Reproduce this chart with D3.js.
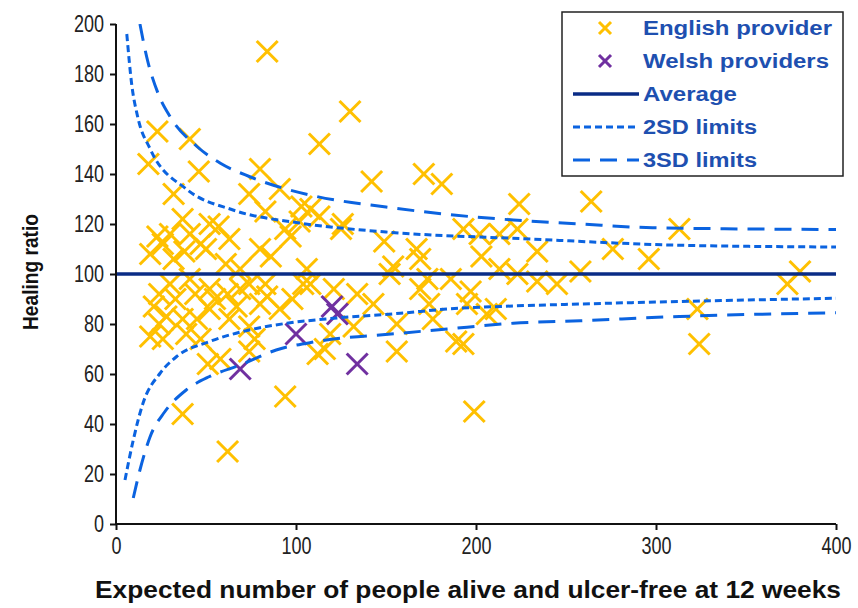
<!DOCTYPE html>
<html>
<head>
<meta charset="utf-8">
<script src="https://cdn.jsdelivr.net/npm/d3@7"></script>
<style>
  body { margin: 0; background: #fff; }
  .tick text { font-family: "Liberation Sans Narrow", "Arial Narrow", sans-serif; font-size: 23px; fill: #222; }
  .leg text { font-family: "Liberation Sans", Arial, sans-serif; font-weight: bold; font-size: 20px; fill: #1E50B0; }
</style>
</head>
<body>
<div id="chart"></div>
<script>
// English providers (expected count, healing ratio)
const englishX = [84,130,113,23,41,18,46,80,142,171,181,32,74,91,103,83,37,30,57,26,47,50,80,97,61,32,86,126,108,113,
  149,167,193,202,203,154,169,106,224,264,313,276,296,234,223,213,213,223,234,245,258,380,373,173,152,
  23,41,52,19,38,63,69,94,102,125,
  30,41,52,62,74,21,28,37,45,19,26,39,52,67,74,84,98,104,51,58,74,37,94,62,108,121,134,143,132,156,174,176,195,189,193,206,
  112,116,156,199,211,323,324,24,33,44,55,69,83,91,24,47,63,80,77,119,169,186,197];
const englishY = [189,165,152,157,154,144,141,142,137,140,136,132,132,134,127,125,122,116,119,112,112,110,110,115,104,106,107,120,126,123,
  113,110,118,116,107,103,106,102,128,129,118,110,106,109,118,116,102,100,97,96,101,101,96,98,100,
  115,116,120,108,109,114,102,118,121,118,
  96,98,94,92,96,87,83,82,82,75,74,76,86,87,79,91,90,96,64,66,69,44,51,29,96,94,92,88,79,80,88,82,88,73,72,84,
  68,70,69,45,86,86,72,92,90,92,90,94,96,86,80,74,82,88,74,76,94,98,93];
// Welsh providers
const welshX = [69,100,120,123,134];
const welshY = [62,76,87,84,64];
// average
const avgX = [0,400];
const avgY = [100,100];
// control limits
const upper2X = [6,8.7,12,19,39,65,102,150,230,313,400];
const upper2Y = [196,176,163,150,134,125.6,120.4,116.8,114,111.5,110.8];
const lower2X = [5,9.6,15,24.5,33.7,52,74,95,121,158,184,220.7,258,313,400];
const lower2Y = [17.6,33.6,48.3,60.3,67,73,77.6,80.3,82.3,84.3,86,87.2,88,89,90.3];
const upper3X = [13.3,17,23.5,30,45,58,74,93,111.5,150,187.5,220.7,258,298,400];
const upper3Y = [200,187,172,163,151,144.3,139,134.3,131,126.8,123.6,121.6,120,118.5,117.8];
const lower3X = [9.6,13.3,19,27,39,52,69,89,111.5,158,184,220.7,258,313,400];
const lower3Y = [10.4,21.6,35,44.8,53.6,59,63.6,69.6,73,76.3,78,80.3,81.3,83,84.5];
const xTicks = [0,100,200,300,400];
const yTicks = [0,20,40,60,80,100,120,140,160,180,200];
const legendItems = ['English provider','Welsh providers','Average','2SD limits','3SD limits'];
const legendWidths = [189,186,94,114,114];

const W = 858, H = 608;
const margin = { top: 24, right: 22, bottom: 84, left: 116 };
const iw = W - margin.left - margin.right, ih = H - margin.top - margin.bottom;

const svg = d3.select('#chart').append('svg').attr('width', W).attr('height', H);
svg.append('defs').append('clipPath').attr('id', 'clip')
  .append('rect').attr('width', iw).attr('height', ih);

const g = svg.append('g').attr('transform', `translate(${margin.left},${margin.top})`);

const x = d3.scaleLinear().domain([0, 400]).range([0, iw]);
const y = d3.scaleLinear().domain([0, 200]).range([ih, 0]);

const orange = '#FFC000', purple = '#7030A0', dashBlue = '#0B63E0', navy = '#0A2C86';

function cross(sel, size, color, w) {
  sel.append('line').attr('x1', -size).attr('y1', -size).attr('x2', size).attr('y2', size)
    .attr('stroke', color).attr('stroke-width', w);
  sel.append('line').attr('x1', -size).attr('y1', size).attr('x2', size).attr('y2', -size)
    .attr('stroke', color).attr('stroke-width', w);
}

// points
const plot = g.append('g').attr('clip-path', 'url(#clip)');
englishX.forEach((v, i) => {
  plot.append('g').attr('transform', `translate(${x(v)},${y(englishY[i])})`).call(cross, 10.5, orange, 3);
});
welshX.forEach((v, i) => {
  plot.append('g').attr('transform', `translate(${x(v)},${y(welshY[i])})`).call(cross, 10.5, purple, 3);
});

// lines
const line = d3.line().curve(d3.curveMonotoneX).x(d => x(d[0])).y(d => y(d[1]));
const zip = (a, b) => a.map((v, i) => [v, b[i]]);
const dash2 = '7,4', dash3 = '17,10';
[[upper2X, upper2Y, dash2], [lower2X, lower2Y, dash2], [upper3X, upper3Y, dash3], [lower3X, lower3Y, dash3]]
  .forEach(([xs, ys, da]) => {
    plot.append('path').datum(zip(xs, ys))
      .attr('fill', 'none').attr('stroke', dashBlue).attr('stroke-width', 3)
      .attr('stroke-dasharray', da).attr('d', line);
  });
plot.append('path').datum(zip(avgX, avgY))
  .attr('fill', 'none').attr('stroke', navy).attr('stroke-width', 3.5).attr('d', line);

// axes
const xAxis = g.append('g').attr('transform', `translate(0,${ih})`)
  .call(d3.axisBottom(x).tickValues(xTicks).tickSize(6).tickPadding(8));
const yAxis = g.append('g')
  .call(d3.axisLeft(y).tickValues(yTicks).tickSize(6).tickPadding(6));
[xAxis, yAxis].forEach(a => {
  a.selectAll('path.domain').attr('stroke', '#111').attr('stroke-width', 2);
  a.selectAll('.tick line').attr('stroke', '#111').attr('stroke-width', 2);
  // narrow digits like Arial Narrow
  a.selectAll('.tick text')
    .attr('textLength', d => String(d).length * 10)
    .attr('lengthAdjust', 'spacingAndGlyphs');
});
xAxis.selectAll('path.domain').attr('d', `M0,0H${iw}`);
yAxis.selectAll('path.domain').attr('d', `M0,0V${ih}`);

svg.append('text')
  .attr('x', 468).attr('y', 598).attr('text-anchor', 'middle')
  .attr('textLength', 746).attr('lengthAdjust', 'spacingAndGlyphs')
  .style('font-family', '"Liberation Sans Narrow", "Arial Narrow", sans-serif')
  .style('font-weight', 'bold').style('font-size', '24px').style('fill', '#111')
  .text('Expected number of people alive and ulcer-free at 12 weeks');

svg.append('text')
  .attr('transform', 'translate(38,272) rotate(-90)').attr('text-anchor', 'middle')
  .attr('textLength', 116).attr('lengthAdjust', 'spacingAndGlyphs')
  .style('font-family', '"Liberation Sans Narrow", "Arial Narrow", sans-serif')
  .style('font-weight', 'bold').style('font-size', '22px').style('fill', '#111')
  .text('Healing ratio');

// legend
const leg = svg.append('g').attr('class', 'leg');
leg.append('rect').attr('x', 562).attr('y', 12).attr('width', 281).attr('height', 164)
  .attr('fill', '#fff').attr('stroke', '#222').attr('stroke-width', 1.5);
legendItems.forEach((name, i) => {
  const cy = 28 + i * 33;
  const row = leg.append('g').attr('transform', `translate(0,${cy})`);
  if (i === 0) row.append('g').attr('transform', 'translate(605,0)').call(cross, 6, orange, 3);
  else if (i === 1) row.append('g').attr('transform', 'translate(605,0)').call(cross, 6, purple, 3);
  else {
    row.append('line').attr('x1', 573).attr('x2', 639).attr('y1', 0).attr('y2', 0)
      .attr('stroke', i === 2 ? navy : dashBlue).attr('stroke-width', i === 2 ? 3.5 : 3)
      .attr('stroke-dasharray', i === 2 ? null : (i === 3 ? dash2 : dash3));
  }
  row.append('text').attr('x', 643).attr('y', 7)
    .attr('textLength', legendWidths[i]).attr('lengthAdjust', 'spacingAndGlyphs')
    .text(name);
});
</script>
</body>
</html>
